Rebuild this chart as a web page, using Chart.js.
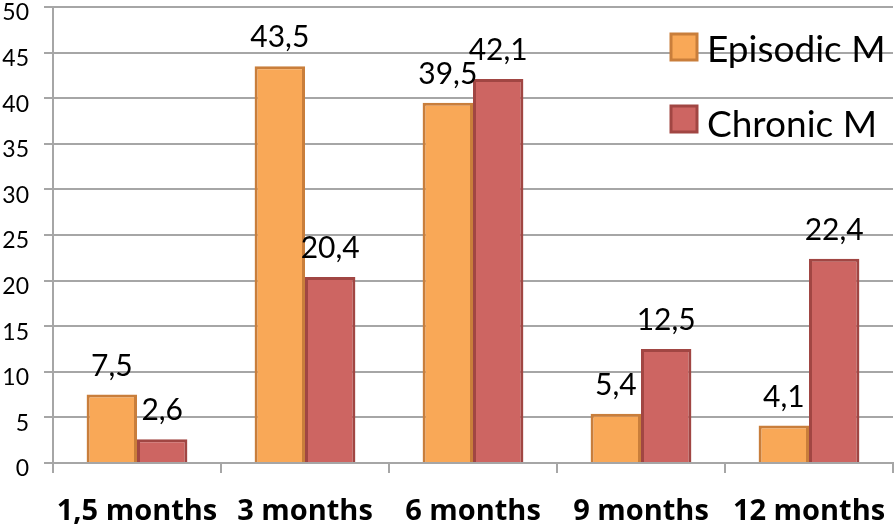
<!DOCTYPE html>
<html>
<head>
<meta charset="utf-8">
<script src="https://cdn.jsdelivr.net/npm/chart.js@4"></script>
<style>
  html, body { margin: 0; padding: 0; background: #fff; }
  #wrap { width: 896px; height: 531px; }
</style>
</head>
<body>
<div id="wrap"><canvas id="chart" width="896" height="531"></canvas></div>
<script>
const categories = ['1,5 months', '3 months', '6 months', '9 months', '12 months'];
const episodic = [7.5, 43.5, 39.5, 5.4, 4.1];
const chronic = [2.6, 20.4, 42.1, 12.5, 22.4];
const seriesNames = ['Episodic M', 'Chronic M'];

const FONT = 'Lato, "Open Sans", sans-serif';

// value labels above each bar, comma decimals
const valueLabels = {
    id: 'valueLabels',
    afterDatasetsDraw(chart) {
        const ctx = chart.ctx;
        ctx.save();
        ctx.font = '30px ' + FONT;
        ctx.fillStyle = '#000';
        ctx.textAlign = 'center';
        ctx.textBaseline = 'alphabetic';
        chart.data.datasets.forEach((ds, i) => {
            chart.getDatasetMeta(i).data.forEach((bar, j) => {
                const txt = ds.data[j].toFixed(1).replace('.', ',');
                ctx.fillText(txt, bar.x, bar.y - 19);
            });
        });
        ctx.restore();
    }
};

// legend inside plot, top right
const insideLegend = {
    id: 'insideLegend',
    afterDraw(chart) {
        const ctx = chart.ctx;
        ctx.save();
        ctx.font = '37px ' + FONT;
        ctx.textBaseline = 'alphabetic';
        chart.data.datasets.forEach((ds, i) => {
            const x = 671, y = 34 + i * 72;
            ctx.fillStyle = ds.backgroundColor;
            ctx.strokeStyle = ds.borderColor;
            ctx.lineWidth = 3;
            ctx.fillRect(x, y, 26, 26);
            ctx.strokeRect(x, y, 26, 26);
            ctx.fillStyle = '#000';
            ctx.fillText(ds.label, x + 36, y + 28 + i * 3);
        });
        ctx.restore();
    }
};

new Chart(document.getElementById('chart').getContext('2d'), {
    type: 'bar',
    data: {
        labels: categories,
        datasets: [{
            label: seriesNames[0],
            data: episodic,
            backgroundColor: '#F9A857',
            borderColor: '#C97E3B',
            borderWidth: 3,
            categoryPercentage: 0.6,
            barPercentage: 1.0
        }, {
            label: seriesNames[1],
            data: chronic,
            backgroundColor: '#CD6562',
            borderColor: '#A14643',
            borderWidth: 3,
            categoryPercentage: 0.6,
            barPercentage: 1.0
        }]
    },
    options: {
        responsive: false,
        animation: false,
        layout: { padding: { top: 7, right: 3, left: 2, bottom: 0 } },
        plugins: {
            legend: { display: false },
            tooltip: { enabled: false }
        },
        scales: {
            x: {
                grid: { drawOnChartArea: false, color: '#a6a6a6', lineWidth: 2, tickLength: 10 },
                border: { color: '#a6a6a6', width: 2 },
                ticks: { color: '#000', font: { family: '"Open Sans", sans-serif', size: 29, weight: 'bold' }, padding: 21, maxRotation: 0, autoSkip: false },
                afterFit(scale) {
                    scale.height = 68;
                    scale.paddingLeft = 0;
                    scale.paddingRight = 0;
                }
            },
            y: {
                min: 0,
                max: 50,
                ticks: { stepSize: 5, color: '#000', font: { family: FONT, size: 23 }, padding: 15, labelOffset: 6 },
                grid: { color: '#a6a6a6', lineWidth: 2, tickLength: 9 },
                border: { color: '#a6a6a6', width: 2 },
                afterFit(scale) {
                    scale.width = 51;
                    scale.paddingTop = 0;
                    scale.paddingBottom = 0;
                }
            }
        }
    },
    plugins: [valueLabels, insideLegend]
});
</script>
</body>
</html>
